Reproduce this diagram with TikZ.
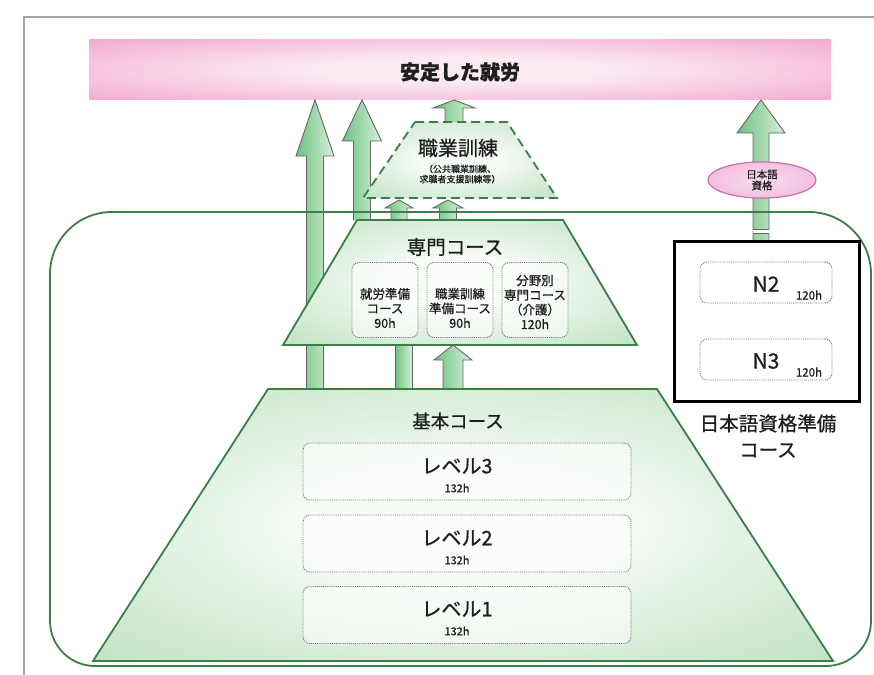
\documentclass[tikz,border=0pt]{standalone}
\usepackage{fontspec}
\setmainfont{Noto Sans CJK JP}[RawFeature={embolden=0.7}]
\usetikzlibrary{shapes.geometric}
\definecolor{tgreen}{RGB}{58,128,70}
\definecolor{lgreen}{RGB}{162,212,168}
\definecolor{lgreenc}{RGB}{246,251,246}
\definecolor{agreen}{RGB}{110,194,126}
\definecolor{agreenl}{RGB}{214,240,218}
\definecolor{pinkc}{RGB}{238,140,189}
\definecolor{pinkm}{RGB}{252,234,243}
\definecolor{epink}{RGB}{236,164,208}
\definecolor{epinkc}{RGB}{250,220,238}
\definecolor{eline}{RGB}{196,112,172}
\definecolor{txt}{RGB}{30,30,30}
\pgfdeclareradialshading{greensoft}{\pgfpoint{0bp}{0bp}}{color(0bp)=(lgreenc); color(10bp)=(lgreenc); color(50bp)=(lgreen); color(100bp)=(lgreen)}
\pgfdeclareradialshading{pinksoft}{\pgfpoint{0bp}{0bp}}{color(0bp)=(pinkm); color(10bp)=(pinkm); color(48bp)=(pinkc); color(100bp)=(pinkc)}
\pgfdeclareradialshading{ellsoft}{\pgfpoint{0bp}{0bp}}{color(0bp)=(epinkc); color(50bp)=(epink); color(100bp)=(epink)}
\tikzset{
  trap/.style={draw=tgreen, line width=1.8, shading=greensoft},
  dtrap/.style={draw=tgreen, line width=1.8, dash pattern=on 9 off 5, shading=greensoft},
  blk/.style={draw=black!60, line width=0.9, left color=agreen, right color=agreenl},
  dbox/.style={draw=black!55, densely dotted, line width=0.9, rounded corners=7, fill=white, fill opacity=0.55, text opacity=1},
  lbl/.style={text=txt, align=center, inner sep=0},
}
\newcommand\blockarrow[6]{% cx, bottom y, tip y, shaft half, head half, head base y
  \path[blk] (#1-#4,#2) -- (#1-#4,#6) -- (#1-#5,#6) -- (#1,#3) -- (#1+#5,#6) -- (#1+#4,#6) -- (#1+#4,#2);
}
\newcommand\fsz[1]{\fontsize{#1pt}{\dimexpr #1pt*5/4\relax}\selectfont}
\begin{document}
\begin{tikzpicture}[x=1pt,y=-1pt]
\useasboundingbox (0,0) rectangle (874,674);
% outer frame
\draw[black!35, line width=1.5] (24,700) -- (24,17) -- (900,17);
% banner
\node[shading=pinksoft, minimum width=742, minimum height=60, inner sep=0] (banner) at (460,70) {};
\node[lbl, font=\fsz{20}\bfseries] (goal) at (460,72) {安定した就労};
% arrows
\blockarrow{315}{389}{100}{8.5}{19}{156}
\blockarrow{362}{220}{100}{8.5}{19.5}{141}
\path[blk] (395,389) rectangle (412,345);
\blockarrow{453}{389}{345}{10}{19}{360}
\blockarrow{399}{221}{200}{8}{14}{208}
\blockarrow{448}{221}{200}{8.5}{15}{208}
\blockarrow{454}{123}{100}{9}{21}{108}
\blockarrow{761}{240}{100}{8}{24}{133}
% break in the right arrow shaft below the frame line
\fill[white] (752.5,229.5) rectangle (769.5,233.5);
\draw[black!60, line width=0.9] (753,229.5) -- (769,229.5) (753,233.5) -- (769,233.5);
% ellipse
\node[ellipse, draw=eline, line width=1.2, shading=ellsoft, minimum width=108, minimum height=36, inner sep=0] (jlpt) at (762,180) {};
\node[lbl, font=\fsz{10.5}] at (jlpt) {日本語\\[-2pt]資格};
% dashed trapezoid
\path[dtrap] (415,122) -- (507,122) -- (557,198) -- (363,198) -- cycle;
\node[lbl, font=\fsz{20}] (voc) at (458,148) {職業訓練};
\node[lbl, font=\fsz{9}] (vocsub) at (460,174) {（公共職業訓練、\\[-1pt]求職者支援訓練等）};
% rounded frame
\draw[tgreen, line width=1.8] (50,440) [rounded corners=62] -- (50,212) -- (871,212) -- (871,440);
\draw[tgreen, line width=1.8] (871,430) [rounded corners=45] -- (871,666) -- (50,666) -- (50,430);
% middle trapezoid
\path[trap] (357,220) -- (563,220) -- (637,345) -- (283,345) -- cycle;
\node[lbl, font=\fsz{19.5}] (spec) at (455,247) {専門コース};
\node[dbox, minimum width=66, minimum height=75, inner sep=0] (c1) at (385,300) {};
\node[dbox, minimum width=66, minimum height=75, inner sep=0] (c2) at (460,300) {};
\node[dbox, minimum width=66, minimum height=75, inner sep=0] (c3) at (535,300) {};
\node[lbl, font=\fsz{12.5}] at (385,308) {就労準備\\[-1pt]コース\\[-1pt]90h};
\node[lbl, font=\fsz{12.5}] at (460,308) {職業訓練\\[-1pt]準備コース\\[-1pt]90h};
\node[lbl, font=\fsz{12.5}] at (535,302) {分野別\\[-1pt]専門コース\\[-1pt]（介護）\\[-1pt]120h};
% base trapezoid
\path[trap] (268,389) -- (657,389) -- (833,661) -- (93,661) -- cycle;
\node[lbl, font=\fsz{18.5}] (basic) at (458,421) {基本コース};
\node[dbox, minimum width=328, minimum height=57, inner sep=0] (l3) at (467,471.5) {};
\node[dbox, minimum width=328, minimum height=57, inner sep=0] (l2) at (467,543.5) {};
\node[dbox, minimum width=328, minimum height=57, inner sep=0] (l1) at (467,615) {};
\node[lbl, font=\fsz{20}] at (457,466) {レベル3};
\node[lbl, font=\fsz{11}] at (457,488) {132h};
\node[lbl, font=\fsz{20}] at (457,538) {レベル2};
\node[lbl, font=\fsz{11}] at (457,560) {132h};
\node[lbl, font=\fsz{20}] at (457,609) {レベル1};
\node[lbl, font=\fsz{11}] at (457,631) {132h};
% N box
\node[draw=black, line width=2.5, minimum width=185, minimum height=160, inner sep=0, anchor=north west] (nbox) at (673,240) {};
\node[dbox, minimum width=132, minimum height=41, inner sep=0] (n2) at (766,282.5) {};
\node[dbox, minimum width=132, minimum height=41, inner sep=0] (n3) at (766,359.5) {};
\node[lbl, font=\fsz{21}] at (766,284) {N2};
\node[lbl, font=\fsz{11.5}] at (809,295) {120h};
\node[lbl, font=\fsz{21}] at (766,361) {N3};
\node[lbl, font=\fsz{11.5}] at (809,372) {120h};
\node[lbl, font=\fsz{19.5}] (nlbl) at (768,436) {日本語資格準備\\[2pt]コース};
\end{tikzpicture}
\end{document}
